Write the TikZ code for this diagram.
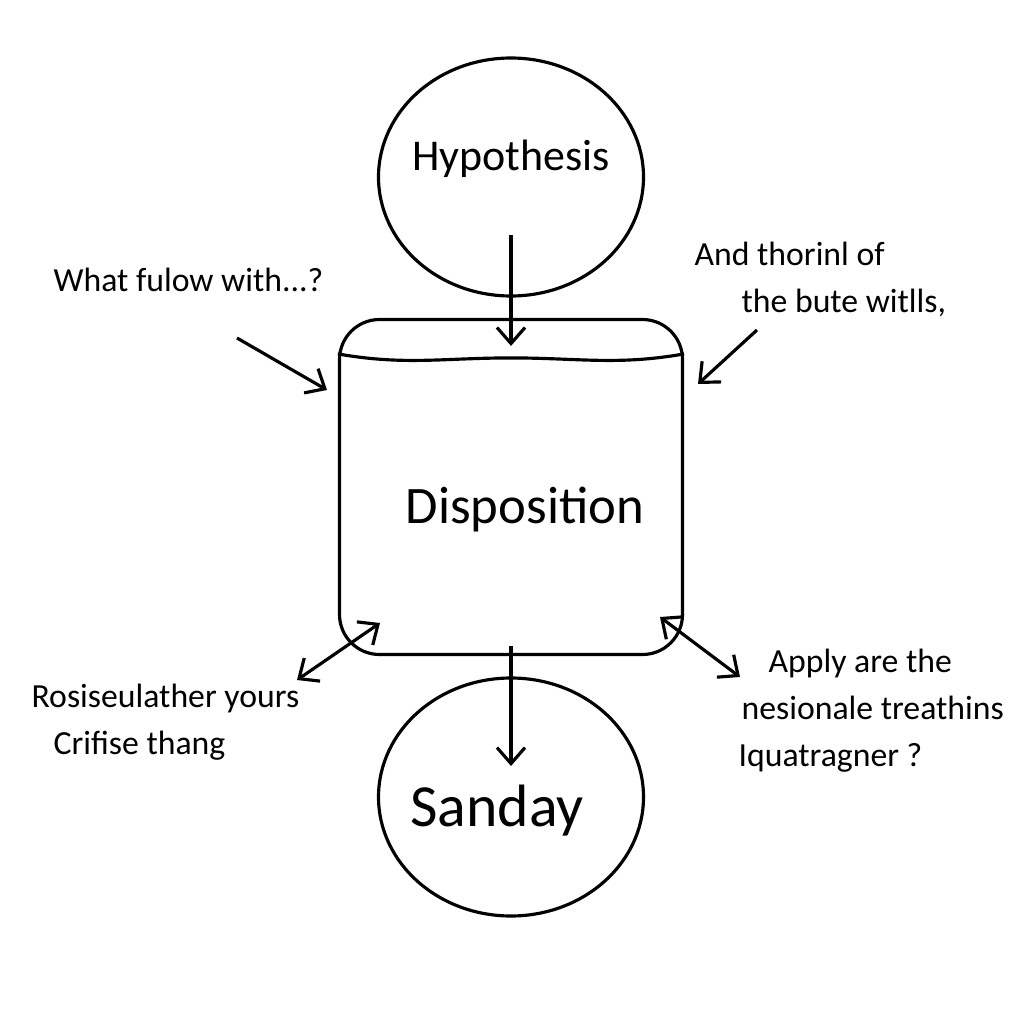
\documentclass[tikz,border=0pt]{standalone}
\usepackage{fontspec}
\setmainfont{Carlito}
\usetikzlibrary{arrows.meta,shapes.geometric}

\begin{document}
\begin{tikzpicture}[x=0.1mm,y=-0.1mm,node distance=3.1cm,>={Straight Barb[length=1.6mm,width=2.8mm]},line width=0.9pt]

	\tikzstyle{bubble} = [ellipse, draw, minimum width=26.5mm, minimum height=23.8mm, inner sep=0pt]
	\tikzstyle{drum}   = [rectangle, draw, rounded corners=4mm, minimum width=34.3mm, minimum height=33.5mm]
	\tikzstyle{note}   = [align=left, anchor=west, inner sep=0pt, font=\fontsize{9.6}{13.4}\selectfont]
	\tikzstyle{pen}    = [->]
	\tikzstyle{both}   = [<->]

	\useasboundingbox (0,0) rectangle (1024,1024);

	% the middle box
	\node [drum] (disp) at (511,487) {};
	\node [font=\fontsize{15}{18}\selectfont] (disptext) at (525,510) {Disposition};
	\draw ([yshift=-3.6mm]disp.north west) to[out=-10,in=180] ([yshift=-4mm]disp.north)
		to[out=0,in=-170] ([yshift=-3.6mm]disp.north east);

	\node [bubble, label={[font=\fontsize{12.5}{15}\selectfont, yshift=1.8mm]center:Hypothesis}] (hyp) [above of=disp] {};
	\node [bubble, label={[font=\fontsize{17}{20}\selectfont, xshift=-1.4mm, yshift=-1.4mm]center:Sanday}] (sanday) [below of=disp] {};

	\draw [pen] ([yshift=-5.8mm]hyp.center) -- ([yshift=-2.8mm]disp.north);
	\draw [pen] ([yshift=1mm]disp.south) -- ([yshift=3.1mm]sanday.center);

	% side notes
	\node [note] (q1) at (52,280) {What fulow with...?};
	\node [note] (q2) at (693,279) {And thorinl of\\\hspace*{4.7mm}the bute witlls,};
	\node [note] (q3) at (30,722) {Rosiseulather yours\\\hspace*{2.2mm}Crifise thang};
	\node [note] (q4) at (737,711) {\hspace*{3mm}Apply are the\\\hspace*{0.3mm}nesionale treathins\\Iquatragner ?};

	\coordinate (q1a) at (237,338);
	\coordinate (q1b) at (327,390);
	\coordinate (q2a) at (757,330);
	\coordinate (q2b) at (698,384);
	\coordinate (q3a) at (297,680);
	\coordinate (q3b) at (380,623);
	\coordinate (q4a) at (740,677);
	\coordinate (q4b) at (660,617);

	\draw [pen]  (q1a) -- (q1b);
	\draw [pen]  (q2a) -- (q2b);
	\draw [both] (q3a) -- (q3b);
	\draw [both] (q4a) -- (q4b);
\end{tikzpicture}
\end{document}
